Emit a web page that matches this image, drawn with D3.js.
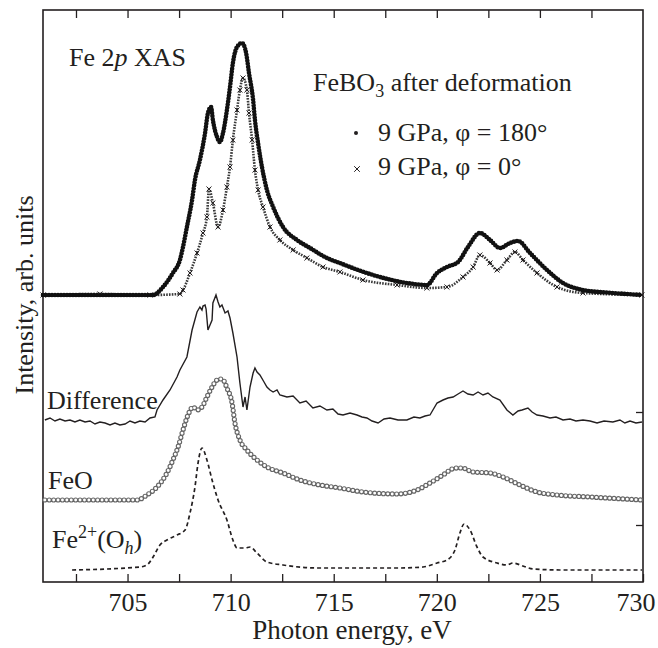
<!DOCTYPE html>
<html>
<head>
<meta charset="utf-8">
<script src="https://cdnjs.cloudflare.com/ajax/libs/d3/7.8.5/d3.min.js"></script>
<style>
	body { margin: 0; background: #fff; }
	#chart { width: 658px; height: 648px; }
	text { fill: #231f20; }
	.axis path, .axis line { stroke: #231f20; }
</style>
</head>
<body>
<div id="chart"></div>
<script>
"use strict"

// [photon energy in eV, intensity in arb. units] - curves already stacked with offsets
const xas180 = [
	[700.90,287],[703.66,287],[706.24,287],[706.72,295],[707.20,309],[707.54,322],[707.69,335],
	[707.88,355],[708.13,382],[708.27,402],[708.51,422],[708.76,449],[708.90,469],[709.05,475],
	[709.14,462],[709.34,445],[709.48,440],[709.63,449],[709.82,472],[709.97,495],[710.11,519],
	[710.31,535],[710.55,539],[710.75,529],[710.89,509],[711.09,482],[711.18,462],[711.33,439],
	[711.52,415],[711.76,392],[712.06,375],[712.54,355],[713.22,342],[713.85,334],[714.67,324],
	[715.30,319],[715.79,315],[717.24,305],[718.55,299],[719.52,297],[720.01,309],[720.49,315],
	[721.03,320],[721.51,335],[722.09,349],[722.58,342],[723.06,334],[723.55,339],[723.94,341],
	[724.52,329],[725.34,312],[726.12,299],[727.09,292],[728.54,289],[729.95,287]
];

const xas0 = [
	[700.90,287],[703.66,288],[706.09,287],[707.54,288],[707.69,292],[708.03,309],[708.37,329],
	[708.66,349],[708.85,365],[708.95,393],[709.14,379],[709.39,355],[709.63,372],[709.82,395],
	[709.97,415],[710.11,442],[710.31,472],[710.45,492],[710.60,504],[710.79,492],[710.89,469],
	[711.04,442],[711.18,412],[711.33,392],[711.57,375],[711.91,355],[712.39,342],[713.03,332],
	[713.70,324],[714.48,315],[715.30,310],[716.42,302],[718.07,297],[719.52,294],[720.49,295],
	[721.27,305],[721.76,315],[722.09,327],[722.58,319],[722.92,312],[723.40,322],[723.79,330],
	[724.18,322],[724.86,309],[725.83,295],[727.09,289],[729.95,287]
];

const difference = [
	[700.99,162],[701.24,164],[701.48,161],[701.72,163],[701.97,161],[702.21,162],[702.45,160],
	[702.69,162],[702.94,160],[703.18,161],[703.42,158],[703.66,160],[703.91,159],[704.15,157],
	[704.39,159],[704.63,157],[704.88,158],[705.12,161],[705.36,159],[705.60,161],[705.85,160],
	[706.09,164],[706.33,165],[706.43,172],[706.72,182],[707.06,192],[707.40,205],[707.54,212],
	[707.88,225],[708.13,252],[708.37,270],[708.51,275],[708.61,272],[708.66,276],[708.76,277],
	[708.81,273],[708.90,252],[709.00,257],[709.10,262],[709.14,279],[709.29,287],[709.39,280],
	[709.48,275],[709.58,277],[709.73,269],[709.87,271],[709.97,264],[710.11,249],[710.31,225],
	[710.45,199],[710.60,175],[710.70,185],[710.79,172],[710.94,195],[711.09,209],[711.18,214],
	[711.28,210],[711.42,207],[711.62,200],[711.76,195],[711.91,192],[712.06,190],[712.25,192],
	[712.39,187],[712.73,185],[713.03,186],[713.36,179],[713.66,181],[713.99,174],[714.33,176],
	[714.67,172],[714.96,173],[715.21,168],[715.45,167],[715.79,169],[716.13,167],[716.37,165],
	[716.61,164],[716.86,161],[717.15,159],[717.44,163],[717.73,164],[718.12,162],[718.55,162],
	[718.89,165],[719.18,164],[719.43,166],[719.67,167],[720.01,179],[720.30,182],[720.54,184],
	[720.79,185],[721.03,188],[721.27,191],[721.51,188],[721.76,187],[722.00,190],[722.24,187],
	[722.48,189],[722.72,185],[723.06,182],[723.40,172],[723.69,167],[723.94,171],[724.13,172],
	[724.42,174],[724.62,170],[724.86,167],[725.15,166],[725.49,164],[725.78,165],[726.12,162],
	[726.46,163],[726.75,161],[727.09,162],[727.43,161],[727.77,159],[728.11,161],[728.54,160],
	[728.88,162],[729.12,159],[729.37,161],[729.66,159],[729.95,160]
];

const feo = [
	[700.99,82],[705.46,82],[705.94,87],[706.43,95],[706.91,109],[707.20,122],[707.45,135],
	[707.69,152],[707.93,167],[708.18,175],[708.37,172],[708.61,175],[708.85,185],[709.10,195],
	[709.34,202],[709.53,203],[709.68,201],[709.82,194],[710.07,179],[710.21,159],[710.45,142],
	[710.79,132],[711.28,122],[711.76,115],[712.54,109],[713.36,102],[714.33,97],[715.30,94],
	[716.42,90],[718.07,88],[718.55,89],[719.04,92],[719.67,99],[720.30,107],[720.74,113],
	[720.98,114],[721.22,114],[721.76,110],[722.58,109],[723.21,105],[724.03,97],[724.86,90],
	[725.83,87],[727.43,85],[729.95,82]
];

const fe2Oh = [
	[702.31,12],[705.60,15],[705.94,17],[706.24,25],[706.57,37],[706.91,42],[707.40,47],
	[707.79,52],[708.03,69],[708.27,95],[708.42,119],[708.61,134],[708.85,122],[709.10,102],
	[709.39,82],[709.82,62],[710.11,42],[710.31,34],[710.70,34],[710.94,35],[711.28,29],
	[711.76,20],[712.54,17],[714.19,14],[718.07,14],[719.33,15],[720.01,19],[720.49,22],
	[720.88,32],[721.12,49],[721.32,58],[721.61,52],[721.95,35],[722.24,25],[722.92,19],
	[723.40,17],[723.69,19],[724.18,16],[724.67,13],[726.12,12],[729.95,12]
];

const xDomain = [700.9, 730];
const yDomain = [0, 572];
const xTickValues = [702.5, 705, 707.5, 710, 712.5, 715, 717.5, 720, 722.5, 725, 727.5, 730];
const xTickLabels = [705, 710, 715, 720, 725, 730];
const rightTickValues = [57, 170];

const serif = '"Liberation Serif", "Times New Roman", serif';

let SpectraView = function(targetID) {
	let self = {
		targetID: targetID,
		target: null,
		svg: null,
		g: null,
		margin: {left: 43, right: 15, top: 10, bottom: 66},
		width: 0,
		height: 0,
		xScale: d3.scaleLinear(),
		yScale: d3.scaleLinear(),
		line: null,
	};

	function initTarget() {
		self.target = d3.select(self.targetID);
		let totalWidth = 658, totalHeight = 648;
		self.width = totalWidth - self.margin.left - self.margin.right;
		self.height = totalHeight - self.margin.top - self.margin.bottom;

		self.svg = self.target.append("svg")
			.attr("width", totalWidth)
			.attr("height", totalHeight);
		self.g = self.svg.append("g")
			.attr("transform", `translate(${self.margin.left},${self.margin.top})`);

		self.xScale.domain(xDomain).range([0, self.width]);
		self.yScale.domain(yDomain).range([self.height, 0]);
		self.line = d3.line()
			.x(d => self.xScale(d[0]))
			.y(d => self.yScale(d[1]))
			.curve(d3.curveMonotoneX);
	}

	function addText(x, y, size) {
		return self.svg.append("text")
			.attr("x", x).attr("y", y)
			.style("font-family", serif)
			.style("font-size", size + "px");
	}

	function drawAxes() {
		let fmt = d => xTickLabels.includes(d) ? d : "";

		let bottom = self.g.append("g").attr("class", "axis")
			.attr("transform", `translate(0,${self.height})`)
			.call(d3.axisBottom(self.xScale).tickValues(xTickValues).tickFormat(fmt)
				.tickSize(-8).tickPadding(10.5));
		bottom.selectAll("text")
			.style("font-family", serif)
			.style("font-size", "26px")
			.attr("fill", "#231f20");
		// last label sits flush with the right edge like in the print
		bottom.selectAll("text").filter(d => d === 730).attr("text-anchor", "end").attr("dx", 12);
		bottom.select(".domain").remove();

		let top = self.g.append("g").attr("class", "axis")
			.call(d3.axisTop(self.xScale).tickValues(xTickValues.slice(0, -1)).tickFormat("").tickSize(-8));
		top.select(".domain").remove();

		let right = self.g.append("g").attr("class", "axis")
			.attr("transform", `translate(${self.width},0)`)
			.call(d3.axisLeft(self.yScale).tickValues(rightTickValues).tickFormat("").tickSize(7));
		right.select(".domain").remove();

		self.g.selectAll(".axis line").attr("stroke-width", 1.3);

		self.g.append("rect")
			.attr("width", self.width)
			.attr("height", self.height)
			.attr("fill", "none")
			.attr("stroke", "#231f20")
			.attr("stroke-width", 1.6);

		addText(352, 639, 27)
			.attr("text-anchor", "middle")
			.text("Photon energy, eV");

		self.svg.append("text")
			.attr("transform", "translate(33,295)rotate(-90)")
			.attr("text-anchor", "middle")
			.style("font-family", serif)
			.style("font-size", "26px")
			.text("Intensity, arb. units");
	}

	function drawCurves() {
		// Fe2+(Oh) calculation: dashed line
		self.g.append("path").datum(fe2Oh)
			.attr("d", self.line)
			.attr("fill", "none")
			.attr("stroke", "#231f20")
			.attr("stroke-width", 1.7)
			.attr("stroke-dasharray", "4 3");

		// FeO reference: open circles (grey ring made of two dotted strokes)
		self.g.append("path").datum(feo)
			.attr("d", self.line)
			.attr("fill", "none")
			.attr("stroke", "#666")
			.attr("stroke-width", 5.2)
			.attr("stroke-linecap", "round")
			.attr("stroke-dasharray", "0 4.4");
		self.g.append("path").datum(feo)
			.attr("d", self.line)
			.attr("fill", "none")
			.attr("stroke", "#fff")
			.attr("stroke-width", 2.9)
			.attr("stroke-linecap", "round")
			.attr("stroke-dasharray", "0 4.4");

		// difference spectrum
		self.g.append("path").datum(difference)
			.attr("d", self.line.curve(d3.curveLinear))
			.attr("fill", "none")
			.attr("stroke", "#231f20")
			.attr("stroke-width", 1.4);
		self.line.curve(d3.curveMonotoneX);

		// 9 GPa, phi = 0 : crosses
		self.g.append("path").datum(xas0)
			.attr("d", self.line)
			.attr("fill", "none")
			.attr("stroke", "#3a3a3a")
			.attr("stroke-width", 2.6)
			.attr("stroke-dasharray", "1.6 1.2");
		self.g.append("g").selectAll("path")
			.data(xas0)
			.enter().append("path")
				.attr("transform", d => `translate(${self.xScale(d[0])},${self.yScale(d[1])})`)
				.attr("d", d3.symbol().type(d3.symbolTimes).size(18))
				.attr("fill", "none")
				.attr("stroke", "#231f20")
				.attr("stroke-width", 1);

		// 9 GPa, phi = 180 : dots
		self.g.append("path").datum(xas180)
			.attr("d", self.line)
			.attr("fill", "none")
			.attr("stroke", "#111")
			.attr("stroke-width", 4.6)
			.attr("stroke-linecap", "round")
			.attr("stroke-dasharray", "0 3");
	}

	function drawLabels() {
		let t = addText(69, 66, 26);
		t.append("tspan").text("Fe 2");
		t.append("tspan").style("font-style", "italic").text("p");
		t.append("tspan").text(" XAS");

		let f = addText(313, 91, 26);
		f.append("tspan").text("FeBO");
		f.append("tspan").attr("dy", 6).style("font-size", "18px").text("3");
		f.append("tspan").attr("dy", -6).text(" after deformation");

		// legend
		self.svg.append("circle").attr("cx", 356).attr("cy", 133).attr("r", 2).attr("fill", "#231f20");
		addText(378, 141, 26).text("9 GPa, \u03c6 = 180\u00b0");
		self.svg.append("path")
			.attr("transform", "translate(357,169)")
			.attr("d", d3.symbol().type(d3.symbolTimes).size(22))
			.attr("stroke", "#231f20").attr("stroke-width", 1).attr("fill", "none");
		addText(378, 175, 26).text("9 GPa, \u03c6 = 0\u00b0");

		addText(47, 409, 26).text("Difference");
		addText(48, 489, 26).text("FeO");

		let o = addText(52, 548, 26);
		o.append("tspan").text("Fe");
		o.append("tspan").attr("dy", -10).style("font-size", "18px").text("2+");
		o.append("tspan").attr("dy", 10).text("(O");
		o.append("tspan").attr("dy", 6).style("font-size", "18px").style("font-style", "italic").text("h");
		o.append("tspan").attr("dy", -6).text(")");
	}

	function draw() {
		initTarget();
		drawAxes();
		drawCurves();
		drawLabels();
	}

	return {
		draw,
	};
}

SpectraView("#chart").draw();
</script>
</body>
</html>
